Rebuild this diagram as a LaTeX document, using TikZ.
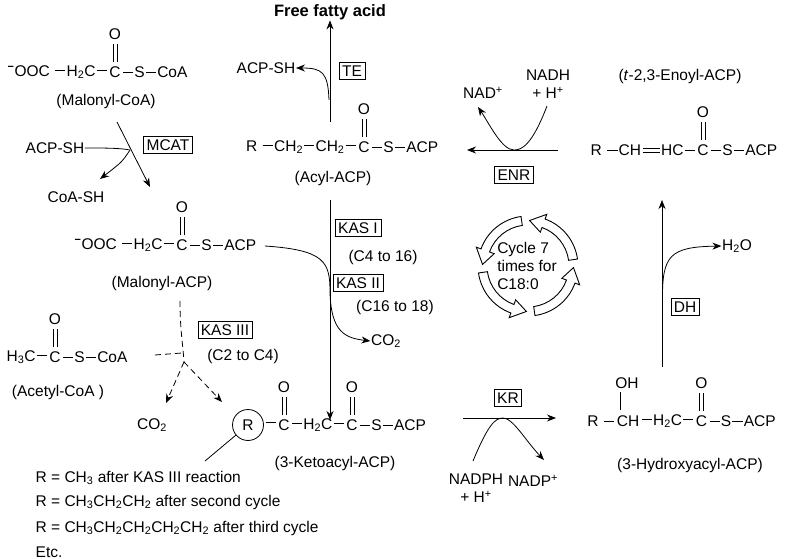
\documentclass[tikz,border=0pt]{standalone}
\usepackage{fontspec}
\setmainfont{Liberation Sans}
\usetikzlibrary{arrows.meta}
\newcommand\bd{\kern1.2pt\rule[0.32em]{0.65em}{0.7pt}\kern1.2pt}
\newcommand\dbd{\kern1.5pt\rlap{\rule[0.2em]{1.1em}{0.7pt}}\rule[0.46em]{1.1em}{0.7pt}\kern1.5pt}
\newcommand\sm[1]{\textsubscript{#1}}
\begin{document}
\begin{tikzpicture}[x=1pt,y=-1pt,font=\fontsize{15.5}{18}\selectfont,
 t/.style={inner sep=0.5pt},
 box/.style={draw,inner sep=3pt,line width=0.6pt},
 ln/.style={line width=0.8pt},
 arr/.style={ln,-{Stealth[length=9pt,width=7pt]}},
 dsh/.style={arr,dash pattern=on 6pt off 4pt},
 co/.pic={\node[t] (-o) at (0,-38) {O}; \draw[line width=0.7pt] (-2,-10)--(-2,-28) (2,-10)--(2,-28);},
 band/.style={draw,line width=0.9pt,fill=white}]
\useasboundingbox (0,0) rectangle (785,559);
% Malonyl-CoA
\node[t] (mc) at (115,72) {C};
\pic (mco) at (115,72) {co};
\node[t,anchor=east] (mcl) at (mc.west) {\textsuperscript{\textbf{−}}OOC \bd H\sm{2}C\bd};
\node[t,anchor=west] (mcr) at (mc.east) {\bd S\bd CoA};
\node[t] (mcn) at (106,101) {(Malonyl-CoA)};
% MCAT
\coordinate (m1) at (117,122); \coordinate (m2) at (150,187); \coordinate (mx) at (130,150);
\draw[arr] (m1) -- (m2);
\node[t] (acpsh1) at (55,148) {ACP-SH};
\node[t] (coash) at (76,197) {CoA-SH};
\draw[ln] (acpsh1.east) .. controls (105,148) and (120,148) .. (mx);
\draw[arr] (mx) .. controls (122,162) .. (100,179);
\node[box] (mcat) at (168,145) {MCAT};
% Malonyl-ACP
\node[t] (ma) at (182,245) {C};
\pic (mao) at (182,245) {co};
\node[t,anchor=east] (mal) at (ma.west) {\textsuperscript{\textbf{−}}OOC \bd H\sm{2}C\bd};
\node[t,anchor=west] (mar) at (ma.east) {\bd S\bd ACP};
\node[t] (man) at (162,283) {(Malonyl-ACP)};
% Acyl-ACP
\node[t] (ac) at (364,147) {C};
\pic (aco) at (364,147) {co};
\node[t,anchor=east] (acl) at (ac.west) {R \bd CH\sm{2}\bd CH\sm{2}\bd};
\node[t,anchor=west] (acr) at (ac.east) {\bd S\bd ACP};
\node[t] (acn) at (333,178) {(Acyl-ACP)};
% TE
\node[font=\fontsize{16.5}{19}\selectfont\bfseries,t] (ffa) at (330,12) {Free fatty acid};
\coordinate (te0) at (330,122); \coordinate (tex) at (329,100);
\draw[arr] (te0) -- (ffa.south);
\node[t] (acpsh2) at (266,68) {ACP-SH};
\draw[arr] (tex) .. controls (328,72) and (322,68) .. (acpsh2.east);
\node[box] (te) at (352,71) {TE};
% KAS I/II
\coordinate (k0) at (330,200); \coordinate (k1) at (330,420); \coordinate (kj) at (330,292);
\draw[arr] (k0) -- (k1);
\draw[ln] (mar.east)++(8,1) .. controls (325,250) and (330,262) .. (kj);
\node[t] (co2a) at (386,341) {CO\sm{2}};
\draw[arr] (330,292) .. controls (331,332) and (345,338) .. (co2a.west);
\node[box] (kas1) at (358,228) {KAS I};
\node[t] (k1t) at (383,257) {(C4 to 16)};
\node[box] (kas2) at (358,283) {KAS II};
\node[t] (k2t) at (395,307) {(C16 to 18)};
% Acetyl-CoA
\node[t] (at) at (55,357) {C};
\pic (ato) at (55,357) {co};
\node[t,anchor=east] (atl) at (at.west) {H\sm{3}C\bd};
\node[t,anchor=west] (atr) at (at.east) {\bd S\bd CoA};
\node[t] (atn) at (58,392) {(Acetyl-CoA )};
% KAS III
\coordinate (d1) at (180,301); \coordinate (d2) at (184,362); \coordinate (d3) at (155,355);
\draw[ln,dash pattern=on 6pt off 4pt] (d1) .. controls (180,330) and (183,345) .. (d2);
\draw[ln,dash pattern=on 6pt off 4pt] (d3) -- (182,353);
\node[t] (co2b) at (152,425) {CO\sm{2}};
\draw[dsh] (d2) -- (166,403);
\draw[dsh] (d2) -- (222,402);
\node[box] (kas3) at (225,330) {KAS III};
\node[t] (k3t) at (243,356) {(C2 to C4)};
% 3-Ketoacyl
\node[draw,circle,ln,inner sep=2.5pt,minimum size=31pt] (r) at (248,425) {R};
\node[t] (k1c) at (284,425) {C};
\pic (k1o) at (284,425) {co};
\node[t,anchor=east] (kl) at (k1c.west) {\bd};
\node[t,anchor=west] (km) at (k1c.east) {\bd H\sm{2}C\bd};
\node[t,anchor=west] (k2c) at (km.east) {C};
\pic (k2o) at (k2c) {co};
\node[t,anchor=west] (kr) at (k2c.east) {\bd S\bd ACP};
\node[t] (kn) at (335,463) {(3-Ketoacyl-ACP)};
\coordinate (rl) at (205,461);
\draw[ln] (r) -- (rl);
\node[t,anchor=west] (r1) at (35,478) {R = CH\sm{3} after KAS III reaction};
\node[t,anchor=west] (r2) at (35,502) {R = CH\sm{3}CH\sm{2}CH\sm{2} after second cycle};
\node[t,anchor=west] (r3) at (35,528) {R = CH\sm{3}CH\sm{2}CH\sm{2}CH\sm{2}CH\sm{2} after third cycle};
\node[t,anchor=west] (r4) at (35,552) {Etc.};
% KR
\coordinate (kr0) at (463,418); \coordinate (kr1) at (556,418);
\draw[arr] (kr0) -- (kr1);
\node[box] (krb) at (508,398) {KR};
\node[t,align=center] (nadph) at (476,488) {NADPH\\+ H\textsuperscript{+}};
\node[t] (nadp) at (533,481) {NADP\textsuperscript{+}};
\draw[arr] (473,461) .. controls (488,425) and (495,418) .. (503,418) .. controls (513,418) and (525,440) .. (544,460);
% Hydroxyacyl
\node[t] (hch) at (628,421) {CH};
\node[t] (hoh) at (627,383) {OH};
\draw[line width=0.7pt] (620,392) -- (620,410);
\node[t,anchor=east] (hl) at (hch.west) {R \bd};
\node[t,anchor=west] (hm) at (hch.east) {\bd H\sm{2}C\bd};
\node[t,anchor=west] (hc) at (hm.east) {C};
\pic (hco) at (hc) {co};
\node[t,anchor=west] (hr) at (hc.east) {\bd S\bd ACP};
\node[t] (hn) at (690,465) {(3-Hydroxyacyl-ACP)};
% DH
\coordinate (dh0) at (662,367); \coordinate (dh1) at (662,200);
\draw[arr] (dh0) -- (dh1);
\node[t] (h2o) at (737,246) {H\sm{2}O};
\draw[arr] (662.5,300) .. controls (662,255) and (670,247) .. (h2o.west);
\node[box] (dh) at (685,307) {DH};
% Enoyl
\node[t] (ec) at (703,150) {C};
\pic (eco) at (703,150) {co};
\node[t,anchor=east] (el) at (ec.west) {R \bd CH\dbd HC\bd};
\node[t,anchor=west] (er) at (ec.east) {\bd S\bd ACP};
\node[t] (en) at (680,76) {(\textit{t}-2,3-Enoyl-ACP)};
% ENR
\coordinate (e0) at (558,150); \coordinate (e1) at (467,150);
\draw[arr] (e0) -- (e1);
\node[box] (enr) at (514,175) {ENR};
\node[t] (nad) at (483,93) {NAD\textsuperscript{+}};
\node[t,align=center] (nadh) at (548,84) {NADH\\+ H\textsuperscript{+}};
\draw[arr] (547,106) .. controls (532,145) and (522,150) .. (514,150) .. controls (502,150) and (490,125) .. (478,107);
% cycle
\begin{scope}[shift={(528,266)},yscale=-1]
\foreach \a in {98,188,278,8}{
 \draw[band] (\a:41) arc[start angle=\a, end angle=\a+62, radius=41] -- (\a+62:36) -- (\a+80:45.5) -- (\a+62:55) -- (\a+62:50) arc[start angle=\a+62, end angle=\a, radius=50] -- cycle;}
\end{scope}
\node[t,align=left] (cyc) at (527,266) {Cycle 7\\times for\\C18:0};
\end{tikzpicture}
\end{document}
